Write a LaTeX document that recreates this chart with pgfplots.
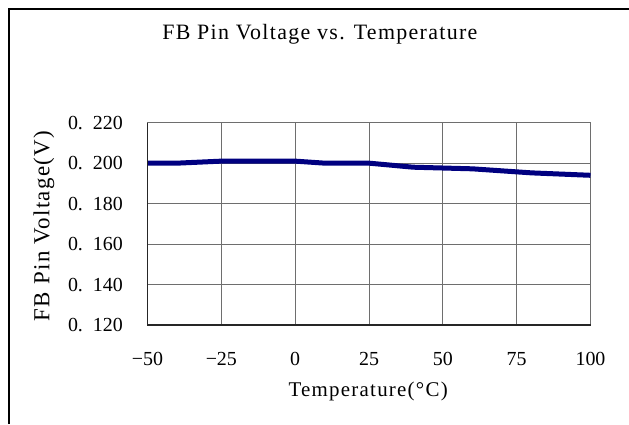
\documentclass[border=0pt]{standalone}
\usepackage{fontspec}
\setmainfont{Liberation Serif}
\newfontfamily\lblfont{Liberation Serif}[LetterSpace=6]
\usepackage{pgfplots}
\pgfplotsset{compat=1.18}
\definecolor{navyline}{RGB}{0,0,128}
\definecolor{gridgray}{RGB}{110,110,110}

\begin{document}
\begin{tikzpicture}[x=1bp,y=1bp]
  \useasboundingbox (0,0) rectangle (629,424);
  % outer chart frame (right and bottom edges fall outside the image)
  \draw[black, line width=1.2bp] (9,0) -- (9,415) -- (629,415);
  \begin{axis}[
      at={(147.5bp,99bp)}, anchor=south west,
      scale only axis,
      width=443bp, height=202.3bp,
      xmin=-50, xmax=100,
      ymin=0.12, ymax=0.22,
      xtick={-50,-25,0,25,50,75,100},
      xticklabels={−50,−25,0,25,50,75,100},
      ytick={0.12,0.14,0.16,0.18,0.20,0.22},
      yticklabels={0.\enspace 120,0.\enspace 140,0.\enspace 160,0.\enspace 180,0.\enspace 200,0.\enspace 220},
      major tick length=0pt,
      tick align=inside,
      grid=major,
      grid style={gridgray, line width=0.9bp},
      axis line style={draw=gridgray, line width=1bp},
      xticklabel style={font=\fontsize{20}{22}\selectfont, anchor=center, inner sep=0pt, yshift=-34bp},
      yticklabel style={font=\fontsize{20}{22}\selectfont, anchor=east, inner sep=0pt, xshift=-24.5bp},
      every axis title shift=0pt,
      title={FB Pin Voltage vs. Temperature},
      title style={font=\lblfont\fontsize{22}{24}\selectfont, at={(axis description cs:0.389,1.438)}, anchor=center, yshift=0pt},
      xlabel={Temperature(°C)},
      xlabel style={font=\lblfont\fontsize{21}{23}\selectfont, at={(axis description cs:0.498,-0.331)}, anchor=center},
      ylabel={FB Pin Voltage(V)},
      ylabel style={font=\lblfont\fontsize{23}{25}\selectfont, at={(axis description cs:-0.234,0.49)}, anchor=center, rotate=0},
      clip=false,
  ]
  \addplot[color=navyline, line width=5bp, line join=round] coordinates {
      (-50,0.200)(-40,0.200)(-25,0.201)(-10,0.201)(0,0.201)(10,0.200)(25,0.200)(40,0.198)(60,0.1972)(80,0.1952)(100,0.194)
  };
  \draw[black!85, line width=1.3bp] (rel axis cs:0,1) -- (rel axis cs:0,0) -- (rel axis cs:1,0);
  \end{axis}
\end{tikzpicture}
\end{document}
